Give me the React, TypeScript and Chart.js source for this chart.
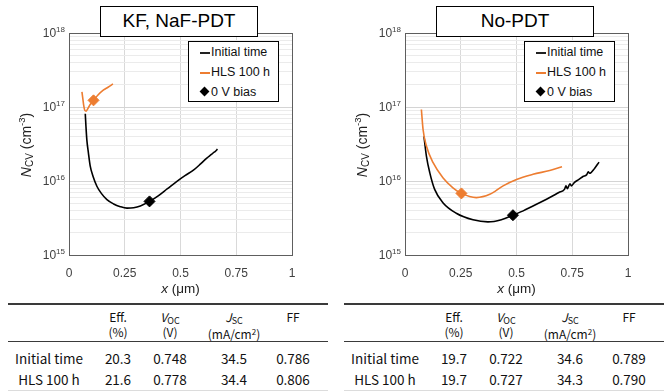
import React, { useEffect, useRef } from "react";
import { Chart, registerables } from "chart.js";

Chart.register(...registerables);

// ---------- data ----------
const xTickValues = [0, 0.25, 0.5, 0.75, 1];
const yDecades = [1e15, 1e16, 1e17, 1e18];
const yMinorMultipliers = [1, 2, 3, 4, 5, 6, 7, 8, 9];

// KF, NaF-PDT
const kfInitX = [0.073, 0.076, 0.08, 0.087, 0.095, 0.108, 0.125, 0.145, 0.17, 0.2, 0.23, 0.26, 0.29, 0.32, 0.361, 0.4, 0.44, 0.484, 0.52, 0.558, 0.59, 0.618, 0.64, 0.648, 0.655, 0.666];
const kfInitY = [8.1e16, 5.5e16, 3.6e16, 2.4e16, 1.6e16, 1.15e16, 8.5e15, 6.8e15, 5.6e15, 4.9e15, 4.5e15, 4.3e15, 4.35e15, 4.6e15, 5.3e15, 6.3e15, 7.8e15, 9.9e15, 1.18e16, 1.4e16, 1.7e16, 2.04e16, 2.3e16, 2.42e16, 2.5e16, 2.7e16];
const kfHlsX = [0.058, 0.062, 0.066, 0.071, 0.077, 0.085, 0.095, 0.11, 0.13, 0.155, 0.175, 0.197];
const kfHlsY = [1.6e17, 1.3e17, 1.05e17, 9.0e16, 8.8e16, 9.6e16, 1.08e17, 1.23e17, 1.45e17, 1.7e17, 1.85e17, 2.05e17];
const kfBiasX = [0.361, 0.11];
const kfBiasY = [5.3e15, 1.23e17];

// No-PDT
const noInitX = [0.085, 0.096, 0.111, 0.133, 0.17, 0.23, 0.305, 0.372, 0.432, 0.484, 0.53, 0.574, 0.61, 0.649, 0.69, 0.715, 0.722, 0.728, 0.74, 0.746, 0.76, 0.78, 0.798, 0.815, 0.822, 0.828, 0.85, 0.87];
const noInitY = [4.0e16, 2.17e16, 1.3e16, 7.7e15, 5.1e15, 3.67e15, 2.99e15, 2.8e15, 3.0e15, 3.45e15, 3.95e15, 4.6e15, 5.2e15, 5.97e15, 7.0e15, 7.7e15, 8.6e15, 7.9e15, 9.2e15, 8.6e15, 9.6e15, 1.05e16, 1.15e16, 1.22e16, 1.33e16, 1.27e16, 1.48e16, 1.8e16];
const noHlsX = [0.0735, 0.081, 0.096, 0.126, 0.17, 0.215, 0.253, 0.32, 0.38, 0.44, 0.5, 0.574, 0.649, 0.704];
const noHlsY = [9.25e16, 4.97e16, 2.97e16, 1.77e16, 1.11e16, 8.1e15, 6.8e15, 5.97e15, 6.6e15, 8.6e15, 1.05e16, 1.23e16, 1.39e16, 1.56e16];
const noBiasX = [0.484, 0.253];
const noBiasY = [3.45e15, 6.8e15];

// tables
const tableRowLabels = ["Initial time", "HLS 100 h"];
const kfEff = [20.3, 21.6];
const kfVoc = [0.748, 0.778];
const kfJsc = [34.5, 34.4];
const kfFF = [0.786, 0.806];
const noEff = [19.7, 19.7];
const noVoc = [0.722, 0.727];
const noJsc = [34.6, 34.3];
const noFF = [0.789, 0.79];

const legendLabels = ["Initial time", "HLS 100 h", "0 V bias"];

// ---------- style ----------
const ORANGE = "#ED7D31";
const BLACK = "#000000";
const AXIS_FONT = '"Liberation Sans", Arial, sans-serif';
const TABLE_FONT = '"Noto Sans CJK JP", "Liberation Sans", sans-serif';
const LABEL_COLOR = "#404040";

const decorPlugin = {
  id: "decor",
  afterDraw(chart: any) {
    const { ctx, chartArea: a, scales } = chart;
    const ys = scales.y;
    ctx.save();
    // frame
    ctx.strokeStyle = "#5e5e5e";
    ctx.lineWidth = 1;
    ctx.strokeRect(Math.round(a.left) + 0.5, Math.round(a.top) + 0.5, Math.round(a.right - a.left), Math.round(a.bottom - a.top));
    // y tick labels with superscript
    ctx.fillStyle = LABEL_COLOR;
    ctx.textBaseline = "middle";
    ctx.textAlign = "left";
    for (const v of yDecades) {
      const py = ys.getPixelForValue(v);
      const exp = String(Math.round(Math.log10(v)));
      ctx.font = `8px ${AXIS_FONT}`;
      const ew = ctx.measureText(exp).width;
      ctx.font = `12px ${AXIS_FONT}`;
      const bw = ctx.measureText("10").width;
      const right = a.left - 4;
      ctx.fillText("10", right - ew - bw, py + 1);
      ctx.font = `8px ${AXIS_FONT}`;
      ctx.fillText(exp, right - ew, py - 3);
    }
    // y title
    ctx.fillStyle = "#222";
    const pieces = [
      { t: "N", f: `italic 14px ${AXIS_FONT}`, dy: 0 },
      { t: "CV", f: `10px ${AXIS_FONT}`, dy: 3 },
      { t: " (cm", f: `14px ${AXIS_FONT}`, dy: 0 },
      { t: "-3", f: `9.5px ${AXIS_FONT}`, dy: -5 },
      { t: ")", f: `14px ${AXIS_FONT}`, dy: 0 },
    ];
    let total = 0;
    for (const p of pieces) {
      ctx.font = p.f;
      total += ctx.measureText(p.t).width;
    }
    ctx.translate(27, (a.top + a.bottom) / 2 + 1);
    ctx.rotate(-Math.PI / 2);
    let cx = -total / 2;
    ctx.textAlign = "left";
    for (const p of pieces) {
      ctx.font = p.f;
      ctx.fillText(p.t, cx, p.dy);
      cx += ctx.measureText(p.t).width;
    }
    ctx.setTransform(1, 0, 0, 1, 0, 0);
    // x title
    const xp = [
      { t: "x", f: `italic 13.5px ${AXIS_FONT}` },
      { t: " (\u03bcm)", f: `13.5px ${AXIS_FONT}` },
    ];
    let xt = 0;
    for (const p of xp) {
      ctx.font = p.f;
      xt += ctx.measureText(p.t).width;
    }
    let xx = (a.left + a.right) / 2 - xt / 2;
    for (const p of xp) {
      ctx.font = p.f;
      ctx.fillText(p.t, xx, 289);
      xx += ctx.measureText(p.t).width;
    }
    ctx.restore();
  },
};

type PanelProps = {
  left: number;
  title: string;
  initX: number[];
  initY: number[];
  hlsX: number[];
  hlsY: number[];
  biasX: number[];
  biasY: number[];
  eff: number[];
  voc: number[];
  jsc: number[];
  ff: number[];
};

function Cell({ cx, cy, children, size }: any) {
  return (
    <div
      style={{
        position: "absolute",
        left: cx - 50,
        top: cy - 9,
        width: 100,
        height: 18,
        lineHeight: "18px",
        textAlign: "center",
        fontFamily: TABLE_FONT,
        fontSize: size,
        color: "#111",
        whiteSpace: "nowrap",
      }}
    >
      {children}
    </div>
  );
}

function Panel(props: PanelProps) {
  const ref = useRef<HTMLCanvasElement>(null);
  const { left, title, initX, initY, hlsX, hlsY, biasX, biasY, eff, voc, jsc, ff } = props;

  useEffect(() => {
    const biasColors = [BLACK, ORANGE];
    const chart = new Chart(ref.current as HTMLCanvasElement, {
      type: "line",
      data: {
        datasets: [
          {
            label: legendLabels[2],
            data: biasX.map((x, i) => ({ x, y: biasY[i] })),
            showLine: false,
            pointStyle: "rectRot",
            pointRadius: 5.5,
            pointBackgroundColor: biasColors,
            pointBorderColor: biasColors,
            pointBorderWidth: 1,
          },
          {
            label: legendLabels[1],
            data: hlsX.map((x, i) => ({ x, y: hlsY[i] })),
            borderColor: ORANGE,
            borderWidth: 1.6,
            pointRadius: 0,
            cubicInterpolationMode: "monotone",
            fill: false,
          },
          {
            label: legendLabels[0],
            data: initX.map((x, i) => ({ x, y: initY[i] })),
            borderColor: BLACK,
            borderWidth: 1.6,
            pointRadius: 0,
            cubicInterpolationMode: "monotone",
            fill: false,
          },
        ],
      } as any,
      options: {
        animation: false,
        responsive: false,
        events: [],
        layout: { padding: { top: 33, right: 44, left: 0, bottom: 0 } },
        plugins: {
          legend: { display: false },
          tooltip: { enabled: false },
          title: { display: false },
        },
        scales: {
          x: {
            type: "linear",
            min: xTickValues[0],
            max: xTickValues[xTickValues.length - 1],
            afterBuildTicks: (s: any) => {
              s.ticks = xTickValues.map((v) => ({ value: v }));
            },
            ticks: {
              callback: (v: any) => String(v),
              font: { family: AXIS_FONT, size: 12 },
              color: LABEL_COLOR,
              padding: 11,
              maxRotation: 0,
            },
            grid: { color: "#d9d9d9", drawTicks: false, lineWidth: 1 },
            border: { display: false },
            afterFit: (s: any) => {
              s.height = 45;
            },
          },
          y: {
            type: "logarithmic",
            min: yDecades[0],
            max: yDecades[yDecades.length - 1],
            afterBuildTicks: (s: any) => {
              const t: any[] = [];
              for (let d = 0; d < yDecades.length - 1; d++) {
                for (const m of yMinorMultipliers) t.push({ value: m * yDecades[d] });
              }
              t.push({ value: yDecades[yDecades.length - 1] });
              s.ticks = t;
            },
            ticks: { display: false },
            grid: {
              drawTicks: false,
              lineWidth: 1,
              color: (c: any) => {
                const v = c.tick ? c.tick.value : 0;
                const lg = Math.log10(v);
                return Math.abs(lg - Math.round(lg)) < 1e-6 ? "#d4d4d4" : "#ebebeb";
              },
            },
            border: { display: false },
            afterFit: (s: any) => {
              s.width = 69;
            },
          },
        },
      } as any,
      plugins: [decorPlugin],
    });
    return () => chart.destroy();
  }, []);

  const colX = [49, 118, 170, 234, 293];
  const rowsY = [358, 379];
  const fmt1 = (v: number) => v.toFixed(1);
  const fmt3 = (v: number) => v.toFixed(3);

  return (
    <div style={{ position: "absolute", left, top: 0, width: 336, height: 392 }}>
      <canvas ref={ref} width={336} height={300} style={{ position: "absolute", left: 0, top: 0, width: 336, height: 300 }} />
      {/* title box */}
      <div
        style={{
          position: "absolute",
          left: 100,
          top: 6,
          width: 158,
          height: 31,
          boxSizing: "border-box",
          border: "1.5px solid #000",
          background: "#fff",
          fontFamily: AXIS_FONT,
          fontSize: 19,
          lineHeight: "28px",
          textAlign: "center",
          color: "#000",
        }}
      >
        {title}
      </div>
      {/* legend */}
      <div
        style={{
          position: "absolute",
          left: 188,
          top: 41,
          width: 91,
          height: 61,
          boxSizing: "border-box",
          border: "1px solid #000",
          background: "#fff",
          fontFamily: AXIS_FONT,
          fontSize: 12.5,
          color: "#111",
        }}
      >
        {[0, 1, 2].map((i) => (
          <div key={i} style={{ position: "absolute", left: 0, top: [2, 22, 42][i], height: 16, width: 89, lineHeight: "16px" }}>
            {i < 2 ? (
              <div style={{ position: "absolute", left: 11, top: 8, width: 10, height: 1.6, background: i === 0 ? "#222" : ORANGE }} />
            ) : (
              <div style={{ position: "absolute", left: 12, top: 4, width: 7, height: 7, background: "#000", transform: "rotate(45deg)" }} />
            )}
            <span style={{ position: "absolute", left: 22, top: 0 }}>{legendLabels[i]}</span>
          </div>
        ))}
      </div>
      {/* table */}
      <div style={{ position: "absolute", left: 8, top: 303, width: 320, height: 1.6, background: "#3a3a3a" }} />
      <div style={{ position: "absolute", left: 8, top: 341, width: 320, height: 1, background: "#3a3a3a" }} />
      <div style={{ position: "absolute", left: 8, top: 390, width: 320, height: 1, background: "#dcdcdc" }} />
      <Cell cx={colX[1]} cy={317} size={12}>Eff.</Cell>
      <Cell cx={colX[1]} cy={332} size={12}>(%)</Cell>
      <Cell cx={colX[2]} cy={317} size={12}>
        <span style={{ fontStyle: "italic" }}>V</span>
        <span style={{ fontSize: 9, verticalAlign: -2 }}>OC</span>
      </Cell>
      <Cell cx={colX[2]} cy={332} size={12}>(V)</Cell>
      <Cell cx={colX[3]} cy={317} size={12}>
        <span style={{ fontStyle: "italic" }}>J</span>
        <span style={{ fontSize: 9, verticalAlign: -2 }}>SC</span>
      </Cell>
      <Cell cx={colX[3]} cy={332} size={12}>
        (mA/cm<span style={{ fontSize: 8, verticalAlign: 4 }}>2</span>)
      </Cell>
      <Cell cx={colX[4]} cy={317} size={12}>FF</Cell>
      {rowsY.map((ry, r) => (
        <React.Fragment key={r}>
          <Cell cx={colX[0]} cy={ry} size={13.5}>{tableRowLabels[r]}</Cell>
          <Cell cx={colX[1]} cy={ry} size={13.5}>{fmt1(eff[r])}</Cell>
          <Cell cx={colX[2]} cy={ry} size={13.5}>{fmt3(voc[r])}</Cell>
          <Cell cx={colX[3]} cy={ry} size={13.5}>{fmt1(jsc[r])}</Cell>
          <Cell cx={colX[4]} cy={ry} size={13.5}>{fmt3(ff[r])}</Cell>
        </React.Fragment>
      ))}
    </div>
  );
}

export default function App() {
  return (
    <div style={{ position: "absolute", left: 0, top: 0, width: 672, height: 392, background: "#fff", overflow: "hidden" }}>
      <Panel
        left={0}
        title="KF, NaF-PDT"
        initX={kfInitX}
        initY={kfInitY}
        hlsX={kfHlsX}
        hlsY={kfHlsY}
        biasX={kfBiasX}
        biasY={kfBiasY}
        eff={kfEff}
        voc={kfVoc}
        jsc={kfJsc}
        ff={kfFF}
      />
      <Panel
        left={336}
        title="No-PDT"
        initX={noInitX}
        initY={noInitY}
        hlsX={noHlsX}
        hlsY={noHlsY}
        biasX={noBiasX}
        biasY={noBiasY}
        eff={noEff}
        voc={noVoc}
        jsc={noJsc}
        ff={noFF}
      />
    </div>
  );
}
